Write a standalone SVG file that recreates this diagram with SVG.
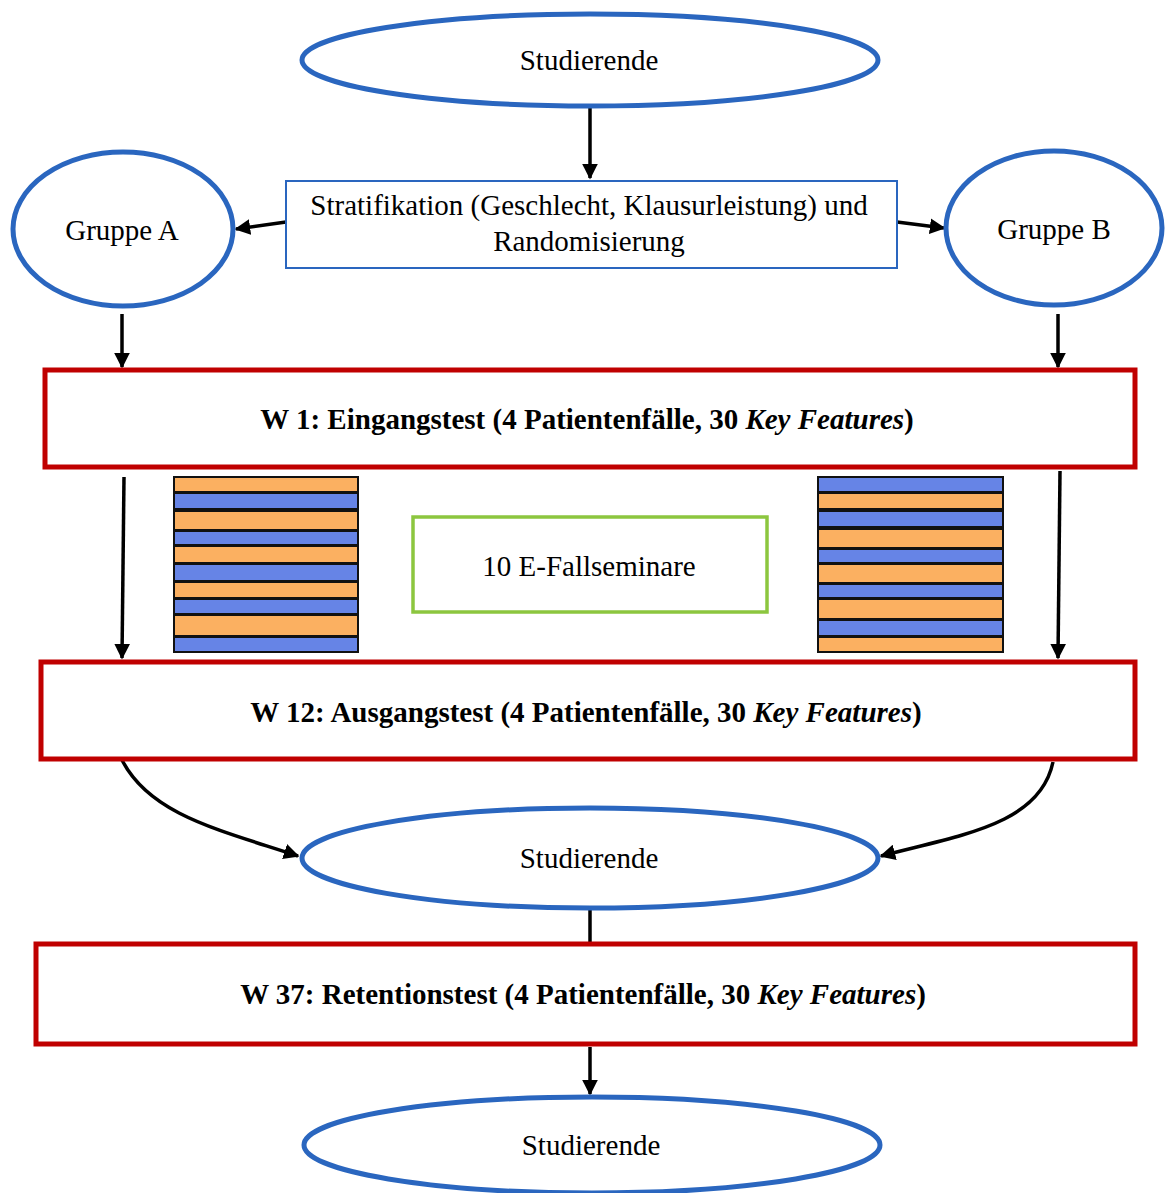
<svg xmlns="http://www.w3.org/2000/svg" width="1166" height="1193" viewBox="0 0 1166 1193">
<style>
.ell{fill:#fff;stroke:#2a66bf;stroke-width:5}
.red{fill:#fff;stroke:#c00000;stroke-width:5}
.t{font-family:"Liberation Serif","Times New Roman",serif;font-size:29px;fill:#000;text-anchor:middle}
.b{font-weight:bold}
.con{fill:none;stroke:#000;stroke-width:3.5}
.o{fill:#fbb061;stroke:#111;stroke-width:2}
.bl{fill:#6684e6;stroke:#111;stroke-width:2}
</style>
<defs>
<marker id="ah" viewBox="0 0 10 10" refX="9" refY="5" markerWidth="4.5" markerHeight="4.5" orient="auto" markerUnits="strokeWidth">
<path d="M0,0 L10,5 L0,10 z" fill="#000"/>
</marker>
</defs>
<rect width="1166" height="1193" fill="#fff"/>

<g id="connectors">
<line class="con" x1="590" y1="108" x2="590" y2="178" marker-end="url(#ah)"/>
<line class="con" x1="286" y1="222" x2="236" y2="229" marker-end="url(#ah)"/>
<line class="con" x1="897" y1="222" x2="944" y2="228" marker-end="url(#ah)"/>
<line class="con" x1="122" y1="314" x2="122" y2="367" marker-end="url(#ah)"/>
<line class="con" x1="1058" y1="314" x2="1058" y2="367" marker-end="url(#ah)"/>
<line class="con" x1="124" y1="477" x2="122" y2="658" marker-end="url(#ah)"/>
<line class="con" x1="1060" y1="471" x2="1058" y2="658" marker-end="url(#ah)"/>
<path class="con" d="M122,760 C150,815 220,830 298,856" marker-end="url(#ah)"/>
<path class="con" d="M1053,762 C1040,825 960,835 881,856" marker-end="url(#ah)"/>
<line class="con" x1="590" y1="910" x2="590" y2="943"/>
<line class="con" x1="590" y1="1047" x2="590" y2="1094" marker-end="url(#ah)"/>
</g>

<g id="studierende1">
<ellipse class="ell" cx="590" cy="60" rx="288" ry="46"/>
<text class="t" x="589" y="70">Studierende</text>
</g>

<g id="stratifikation">
<rect x="286" y="181" width="611" height="87" fill="#fff" stroke="#2a66bf" stroke-width="2"/>
<text class="t" x="589" y="215" font-size="28">Stratifikation (Geschlecht, Klausurleistung) und</text>
<text class="t" x="589" y="251" font-size="28">Randomisierung</text>
</g>

<g id="gruppeA">
<ellipse class="ell" cx="123" cy="229" rx="110" ry="77"/>
<text class="t" x="122" y="240">Gruppe A</text>
</g>

<g id="gruppeB">
<ellipse class="ell" cx="1054" cy="228" rx="108" ry="77"/>
<text class="t" x="1054" y="239">Gruppe B</text>
</g>

<g id="w1">
<rect class="red" x="45" y="370" width="1090" height="97"/>
<text class="t b" x="587" y="429">W 1: Eingangstest (4 Patientenfälle, 30 <tspan font-style="italic">Key Features</tspan>)</text>
</g>

<g id="stripesA">
<rect class="o" x="174" y="477" width="184" height="15"/>
<rect class="bl" x="174" y="493" width="184" height="16"/>
<rect class="o" x="174" y="511" width="184" height="19"/>
<rect class="bl" x="174" y="531" width="184" height="14"/>
<rect class="o" x="174" y="546" width="184" height="17"/>
<rect class="bl" x="174" y="564" width="184" height="17"/>
<rect class="o" x="174" y="582" width="184" height="16"/>
<rect class="bl" x="174" y="599" width="184" height="15"/>
<rect class="o" x="174" y="615" width="184" height="21"/>
<rect class="bl" x="174" y="637" width="184" height="15"/>
</g>

<g id="stripesB">
<rect class="bl" x="818" y="477" width="185" height="15"/>
<rect class="o" x="818" y="493" width="185" height="16"/>
<rect class="bl" x="818" y="511" width="185" height="16"/>
<rect class="o" x="818" y="529" width="185" height="19"/>
<rect class="bl" x="818" y="549" width="185" height="14"/>
<rect class="o" x="818" y="564" width="185" height="19"/>
<rect class="bl" x="818" y="584" width="185" height="14"/>
<rect class="o" x="818" y="599" width="185" height="20"/>
<rect class="bl" x="818" y="620" width="185" height="16"/>
<rect class="o" x="818" y="637" width="185" height="15"/>
</g>

<g id="fallseminare">
<rect x="413" y="517" width="354" height="95" fill="#fff" stroke="#8cc63f" stroke-width="3.5"/>
<text class="t" x="589" y="576">10 E-Fallseminare</text>
</g>

<g id="w12">
<rect class="red" x="41" y="662" width="1094" height="97"/>
<text class="t b" x="586" y="722">W 12: Ausgangstest (4 Patientenfälle, 30 <tspan font-style="italic">Key Features</tspan>)</text>
</g>

<g id="studierende2">
<ellipse class="ell" cx="590" cy="858" rx="288" ry="50"/>
<text class="t" x="589" y="868">Studierende</text>
</g>

<g id="w37">
<rect class="red" x="36" y="944" width="1099" height="100"/>
<text class="t b" x="583" y="1004">W 37: Retentionstest (4 Patientenfälle, 30 <tspan font-style="italic">Key Features</tspan>)</text>
</g>

<g id="studierende3">
<ellipse class="ell" cx="592" cy="1145" rx="288" ry="48"/>
<text class="t" x="591" y="1155">Studierende</text>
</g>
</svg>
